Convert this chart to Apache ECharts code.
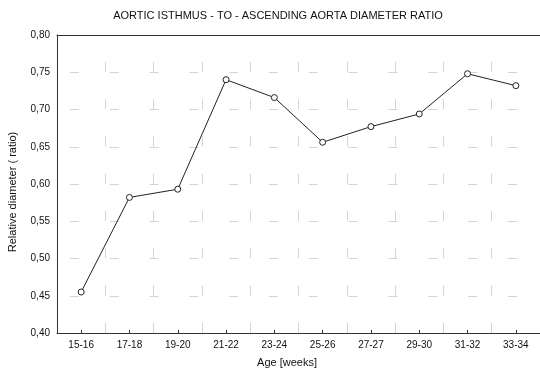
<!DOCTYPE html>
<html><head><meta charset="utf-8">
<script src="https://cdn.jsdelivr.net/npm/echarts@6/dist/echarts.min.js"></script>
<style>html,body{margin:0;padding:0;background:#fff}#c{width:540px;height:372px}</style>
</head><body><div id="c"></div>
<script>
var categories = ['15-16','17-18','19-20','21-22','23-24','25-26','27-27','29-30','31-32','33-34'];
var ratio = [0.455, 0.582, 0.593, 0.740, 0.716, 0.656, 0.677, 0.694, 0.748, 0.732];
var yMin = 0.40, yMax = 0.80, yStep = 0.05;
var titleText = 'AORTIC ISTHMUS - TO - ASCENDING AORTA DIAMETER RATIO';
var xName = 'Age [weeks]';
var yName = 'Relative diameter ( ratio)';

var chart = echarts.init(document.getElementById('c'));
var font = 'Liberation Sans, Arial, sans-serif';
chart.setOption({
  animation: false,
  backgroundColor: '#fff',
  grid: {left: 57, top: 35, width: 487, height: 298, containLabel: false},
  xAxis: [{
    type: 'category', data: categories, boundaryGap: true,
    axisLine: {show: true, lineStyle: {color: '#333', width: 1}},
    axisTick: {show: true, inside: true, length: 3, alignWithLabel: true, lineStyle: {color: '#333'}},
    axisLabel: {color: '#111', fontFamily: font, fontSize: 10, margin: 7, interval: 0},
    splitLine: {show: true, interval: 0, lineStyle: {color: '#d4d4d4', width: 1, type: [10, 27.25], dashOffset: 10.25}}
  }, {
    type: 'category', data: categories, position: 'top',
    axisLine: {show: true, lineStyle: {color: '#333', width: 1}},
    axisTick: {show: false}, axisLabel: {show: false}, splitLine: {show: false}
  }],
  yAxis: {
    type: 'value', min: yMin, max: yMax, interval: yStep,
    axisLine: {show: true, lineStyle: {color: '#333', width: 1}},
    axisTick: {show: false},
    axisLabel: {color: '#111', fontFamily: font, fontSize: 10, margin: 7,
      formatter: function (v) { return v.toFixed(2).replace('.', ','); }},
    splitLine: {show: true, lineStyle: {color: '#d4d4d4', width: 1, type: [9, 30.8], dashOffset: 26.8}}
  },
  graphic: [
    {type: 'text', x: 278, y: 10, style: {text: titleText, align: 'center', fontFamily: font, fontSize: 11, fill: '#111'}},
    {type: 'text', x: 287, y: 357, style: {text: xName, align: 'center', fontFamily: font, fontSize: 11, fill: '#111'}},
    {type: 'text', rotation: Math.PI / 2, x: 13, y: 192, style: {text: yName, align: 'center', verticalAlign: 'middle', fontFamily: font, fontSize: 11, fill: '#111'}}
  ],
  series: [{
    type: 'line', data: ratio, symbol: 'circle', symbolSize: 6,
    lineStyle: {color: '#222', width: 1},
    itemStyle: {color: '#fff', borderColor: '#222', borderWidth: 1}
  }]
});
</script></body></html>
